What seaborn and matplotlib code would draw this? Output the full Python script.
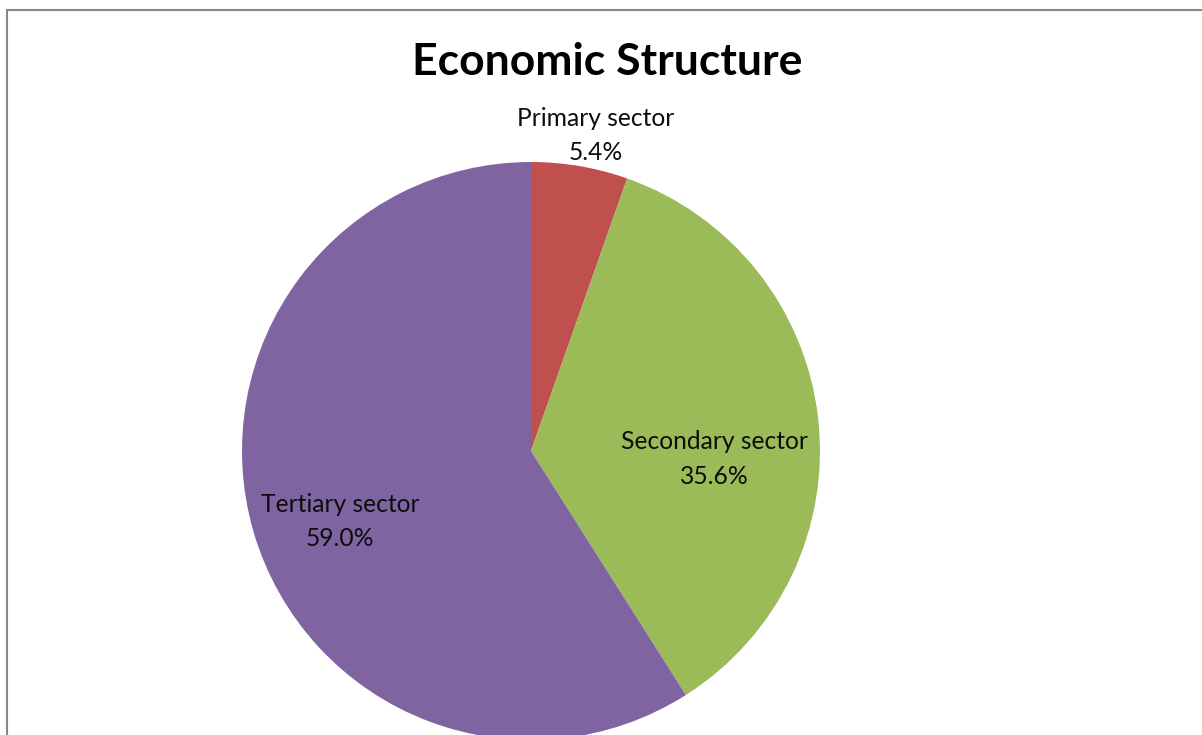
import matplotlib
matplotlib.use("Agg")
import matplotlib.pyplot as plt
from matplotlib.patches import Rectangle
import seaborn as sns

# Sector shares of the economy (percent)
sectors = ["Primary sector", "Secondary sector", "Tertiary sector"]
shares = [5.4, 35.6, 59.0]
sector_colors = ["#C0504D", "#9BBB59", "#8064A2"]

sns.set_theme(style="white")
plt.rcParams["font.family"] = ["Lato", "DejaVu Sans"]

W, H = 1202, 735
fig = plt.figure(figsize=(W / 100, H / 100), dpi=100)
fig.patch.set_facecolor("white")

# chart frame (top and left edges visible)
fig.add_artist(Rectangle((7 / W, -0.1), 1.2, (H - 9.5) / H + 0.1,
                         transform=fig.transFigure, fill=False,
                         edgecolor="#878787", linewidth=1.5))

# square axes holding the pie, radius 289 px centred at (531, 451 from top)
r = 289
cx, cy = 531, H - 451
ax = fig.add_axes([(cx - r) / W, (cy - r) / H, 2 * r / W, 2 * r / H])
palette = sns.color_palette(sector_colors)
ax.pie(shares, colors=palette, startangle=90, counterclock=False,
       radius=1, wedgeprops=dict(linewidth=0))
ax.set_xlim(-1, 1)
ax.set_ylim(-1, 1)
ax.set_aspect("equal")
ax.axis("off")

# data label anchors in pie radius units
label_pos = [(0.225, 1.091), (0.635, -0.027), (-0.66, -0.244)]
for name, val, (lx, ly) in zip(sectors, shares, label_pos):
    ax.text(lx, ly, f"{name}\n{val:.1f}%", ha="center", va="center",
            fontsize=17.7, color="#0d0d0d", linespacing=1.6, clip_on=False)

fig.text(607 / W, 1 - 62 / H, "Economic Structure", ha="center", va="center",
         fontsize=32, fontweight="bold", color="black")

fig.savefig("out.png", dpi=100)
